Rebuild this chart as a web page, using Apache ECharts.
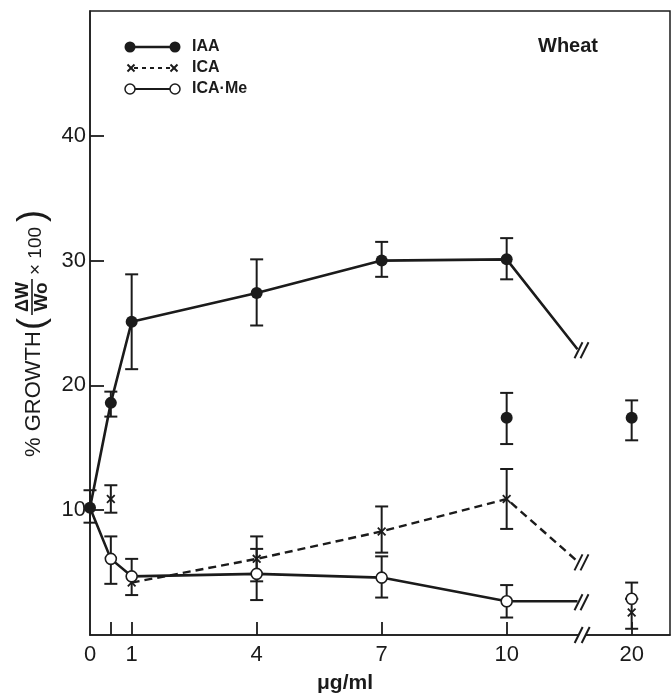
<!DOCTYPE html>
<html><head><meta charset="utf-8">
<script src="https://cdn.jsdelivr.net/npm/echarts@6/dist/echarts.min.js"></script>
<style>html,body{margin:0;padding:0;background:#fff}#c{width:671px;height:699px}</style>
</head><body><div id="c"></div>
<script>
// ---------------- data ----------------
// IAA, connected points (concentration in μg/ml, % growth)
const iaaConc   = [0, 0.5, 1, 4, 7, 10];
const iaaValues = [10.2, 18.6, 25.1, 27.4, 30.0, 30.1];
const iaaLow    = [9.0, 17.5, 21.3, 24.8, 28.7, 28.5];
const iaaHigh   = [11.6, 19.5, 28.9, 30.1, 31.5, 31.8];
const iaaBreakValue = 22.9;          // where the line runs into the axis break
const iaaSepConc   = [10, 20];       // separate (unconnected) points
const iaaSepValues = [17.4, 17.4];
const iaaSepLow    = [15.3, 15.6];
const iaaSepHigh   = [19.4, 18.8];

// ICA
const icaConc   = [1, 4, 7, 10];
const icaValues = [4.2, 6.1, 8.3, 10.9];
const icaLow    = [null, 4.3, 6.6, 8.5];
const icaHigh   = [null, 7.9, 10.3, 13.3];
const icaBreakValue = 5.9;
const icaSepConc   = [0.5, 20];
const icaSepValues = [10.9, 1.8];
const icaSepLow    = [9.8, 0.5];
const icaSepHigh   = [12.0, 2.9];

// ICA·Me
const meConc   = [0, 0.5, 1, 4, 7, 10];
const meValues = [10.2, 6.1, 4.7, 4.9, 4.6, 2.7];
const meLow    = [null, 4.1, 3.2, 2.8, 3.0, 1.4];
const meHigh   = [null, 7.9, 6.1, 6.9, 6.3, 4.0];
const meBreakValue = 2.7;
const meSepConc   = [20];
const meSepValues = [2.9];
const meSepLow    = [2.9];
const meSepHigh   = [4.2];

// axes
const xTickConc   = [0, 1, 4, 7, 10, 20];
const xTickLabels = ['0', '1', '4', '7', '10', '20'];
const xExtraTickConc = [0.5];
const yTickValues = [10, 20, 30, 40];
const legendNames = ['IAA', 'ICA', 'ICA·Me'];
const plotTitle = 'Wheat';

// ---------------- broken-axis layout ----------------
const BREAK_LINE_END = 11.7;   // axis position where the lines stop
const BREAK_AXIS = 11.8;       // axis position of the break on the x axis
const POS_OF_20 = 13;          // axis position used for 20 μg/ml
const X_MAX = 13.92;
function pos(c) { return c > 10 ? POS_OF_20 : c; }

const INK = '#1b1b1b';
const FONT = '"Liberation Sans", Arial, Helvetica, sans-serif';
const X_SYMBOL = 'path://M0,1.4L1.4,0L5,3.6L8.6,0L10,1.4L6.4,5L10,8.6L8.6,10L5,6.4L1.4,10L0,8.6L3.6,5Z';

function pts(conc, vals) { return conc.map((c, i) => [pos(c), vals[i]]); }
function errs(conc, lo, hi) {
  const out = [];
  conc.forEach((c, i) => { if (lo[i] != null && hi[i] != null) out.push([pos(c), lo[i], hi[i]]); });
  return out;
}
function renderErr(params, api) {
  const x = api.value(0), lo = api.value(1), hi = api.value(2);
  const p1 = api.coord([x, lo]), p2 = api.coord([x, hi]);
  const w = 6.5, st = { stroke: INK, lineWidth: 2 };
  return { type: 'group', children: [
    { type: 'line', shape: { x1: p1[0], y1: p1[1], x2: p2[0], y2: p2[1] }, style: st },
    { type: 'line', shape: { x1: p1[0] - w, y1: p1[1], x2: p1[0] + w, y2: p1[1] }, style: st },
    { type: 'line', shape: { x1: p2[0] - w, y1: p2[1], x2: p2[0] + w, y2: p2[1] }, style: st }
  ]};
}
const errorData = []
  .concat(errs(iaaConc, iaaLow, iaaHigh))
  .concat(errs(iaaSepConc, iaaSepLow, iaaSepHigh))
  .concat(errs(icaConc, icaLow, icaHigh))
  .concat(errs(icaSepConc, icaSepLow, icaSepHigh))
  .concat(errs(meConc, meLow, meHigh))
  .concat(errs(meSepConc, meSepLow, meSepHigh));

const iaaLine = pts(iaaConc, iaaValues).concat([{ value: [BREAK_LINE_END, iaaBreakValue], symbol: 'none' }]);
const icaLine = pts(icaConc, icaValues).concat([{ value: [BREAK_LINE_END, icaBreakValue], symbol: 'none' }]);
const meLine = pts(meConc, meValues).map((p, i) => meConc[i] === 0 ? { value: p, symbol: 'none' } : p)
  .concat([{ value: [BREAK_LINE_END, meBreakValue], symbol: 'none' }]);

const chart = echarts.init(document.getElementById('c'), null, { renderer: 'canvas' });
chart.setOption({
  animation: false,
  backgroundColor: '#fff',
  grid: { left: 90, right: 1, top: 11, bottom: 64, show: true, borderColor: INK, borderWidth: 1.5, backgroundColor: 'transparent' },
  xAxis: {
    type: 'value', min: 0, max: X_MAX,
    axisLine: { show: true, lineStyle: { color: INK, width: 1.5 } },
    splitLine: { show: false },
    axisTick: { show: true, inside: true, length: 13, lineStyle: { color: INK, width: 1.8 },
      customValues: xExtraTickConc.concat(xTickConc.filter(c => c !== 0)).map(pos) },
    axisLabel: { show: true, margin: 9, fontSize: 22, color: INK, fontFamily: FONT,
      customValues: xTickConc.map(pos),
      formatter: v => { const i = xTickConc.map(pos).indexOf(v); return i >= 0 ? xTickLabels[i] : ''; } },
    name: 'μg/ml', nameLocation: 'middle', nameGap: 38,
    nameTextStyle: { fontSize: 21, fontWeight: 'bold', color: INK, fontFamily: FONT, padding: [0, 70, 0, 0] }
  },
  yAxis: {
    type: 'value', min: 0, max: 50, interval: 10,
    axisLine: { show: true, lineStyle: { color: INK, width: 1.5 } },
    splitLine: { show: false },
    axisTick: { show: true, inside: true, length: 14, lineStyle: { color: INK, width: 1.8 }, customValues: yTickValues },
    axisLabel: { show: true, margin: 4, fontSize: 22, color: INK, fontFamily: FONT, customValues: yTickValues }
  },
  series: [
    { type: 'custom', name: 'error', renderItem: renderErr, data: errorData, encode: { x: 0, y: [1, 2] }, z: 1, silent: true },
    { type: 'line', name: legendNames[0], data: iaaLine, symbol: 'circle', symbolSize: 12, z: 3,
      lineStyle: { color: INK, width: 2.6 }, itemStyle: { color: INK, opacity: 1 } },
    { type: 'scatter', name: legendNames[0] + ' sep', data: pts(iaaSepConc, iaaSepValues), symbol: 'circle', symbolSize: 12, z: 3,
      itemStyle: { color: INK, opacity: 1 } },
    { type: 'line', name: legendNames[1], data: icaLine, symbol: X_SYMBOL, symbolSize: 9, z: 3,
      lineStyle: { color: INK, width: 2.4, type: [8, 5] }, itemStyle: { color: INK, opacity: 1 } },
    { type: 'scatter', name: legendNames[1] + ' sep', data: pts(icaSepConc, icaSepValues), symbol: X_SYMBOL, symbolSize: 9, z: 3,
      itemStyle: { color: INK, opacity: 1 } },
    { type: 'line', name: legendNames[2], data: meLine, symbol: 'circle', symbolSize: 11, z: 4,
      lineStyle: { color: INK, width: 2.6 }, itemStyle: { color: '#fff', borderColor: INK, borderWidth: 1.6, opacity: 1 } },
    { type: 'scatter', name: legendNames[2] + ' sep', data: pts(meSepConc, meSepValues), symbol: 'circle', symbolSize: 11, z: 4,
      itemStyle: { color: '#fff', borderColor: INK, borderWidth: 1.6, opacity: 1 } }
  ]
});

// ---------------- decorations: breaks, legend, titles ----------------
function px(p) { return chart.convertToPixel({ gridIndex: 0 }, p); }
function slashes(cx, cy, gap) {
  const st = { stroke: INK, lineWidth: 2 };
  return [0, gap].map(d => ({ type: 'line', z: 120,
    shape: { x1: cx + d - 4, y1: cy + 8, x2: cx + d + 4, y2: cy - 8 }, style: st }));
}
const g = [];
[iaaBreakValue, icaBreakValue, meBreakValue].forEach(v => {
  const p = px([BREAK_LINE_END, v]);
  g.push(...slashes(p[0] + 1, p[1] + 1, 6));
});
const ab = px([BREAK_AXIS, 0]);
g.push({ type: 'rect', z: 110, shape: { x: ab[0] - 3, y: ab[1] - 3, width: 7, height: 6 }, style: { fill: '#fff' } });
g.push(...slashes(ab[0] - 3, ab[1], 7));

// legend
const legRows = [47, 68, 89];
const lx1 = 130, lx2 = 175;
g.push({ type: 'line', z: 100, shape: { x1: lx1, y1: legRows[0], x2: lx2, y2: legRows[0] }, style: { stroke: INK, lineWidth: 2.4 } });
[lx1, lx2].forEach(x => g.push({ type: 'circle', z: 101, shape: { cx: x, cy: legRows[0], r: 5.5 }, style: { fill: INK } }));
g.push({ type: 'line', z: 100, shape: { x1: lx1 + 4, y1: legRows[1], x2: lx2 - 4, y2: legRows[1] }, style: { stroke: INK, lineWidth: 1.8, lineDash: [4, 4] } });
[lx1 + 1, lx2 - 1].forEach(x => {
  g.push({ type: 'line', z: 101, shape: { x1: x - 3.5, y1: legRows[1] - 3.5, x2: x + 3.5, y2: legRows[1] + 3.5 }, style: { stroke: INK, lineWidth: 2 } });
  g.push({ type: 'line', z: 101, shape: { x1: x + 3.5, y1: legRows[1] - 3.5, x2: x - 3.5, y2: legRows[1] + 3.5 }, style: { stroke: INK, lineWidth: 2 } });
});
g.push({ type: 'line', z: 100, shape: { x1: lx1, y1: legRows[2], x2: lx2, y2: legRows[2] }, style: { stroke: INK, lineWidth: 1.8 } });
[lx1, lx2].forEach(x => g.push({ type: 'circle', z: 101, shape: { cx: x, cy: legRows[2], r: 5 }, style: { fill: '#fff', stroke: INK, lineWidth: 1.5 } }));
legendNames.forEach((n, i) => g.push({ type: 'text', z: 101, x: 192, y: legRows[i],
  style: { text: n, font: 'bold 16px ' + FONT, fill: INK, align: 'left', verticalAlign: 'middle', textAlign: 'left', textVerticalAlign: 'middle' } }));

g.push({ type: 'text', z: 101, x: 568, y: 46,
  style: { text: plotTitle, font: 'bold 20px ' + FONT, fill: INK, align: 'center', verticalAlign: 'middle', textAlign: 'center', textVerticalAlign: 'middle' } });

// y-axis title: % GROWTH (ΔW/Wo × 100), rotated
function t(txt, x, y, font, align) {
  return { type: 'text', x: x, y: y, style: { text: txt, font: font, fill: INK,
    align: align || 'left', verticalAlign: 'middle', textAlign: align || 'left', textVerticalAlign: 'middle' } };
}
g.push({ type: 'group', z: 100, x: 34, y: 457, rotation: Math.PI / 2, children: [
  t('% GROWTH', 0, 0, '22px ' + FONT),
  t('(', 127, -1, '36px ' + FONT),
  t('ΔW', 160, -11, 'bold 18px ' + FONT, 'center'),
  { type: 'line', shape: { x1: 142, y1: -2, x2: 178, y2: -2 }, style: { stroke: INK, lineWidth: 1.6 } },
  t('Wo', 160, 8, 'bold 19px ' + FONT, 'center'),
  t('× 100', 182, 2, '19px ' + FONT),
  t(')', 235, -1, '36px ' + FONT)
] });

chart.setOption({ graphic: g });
</script>
</body></html>
